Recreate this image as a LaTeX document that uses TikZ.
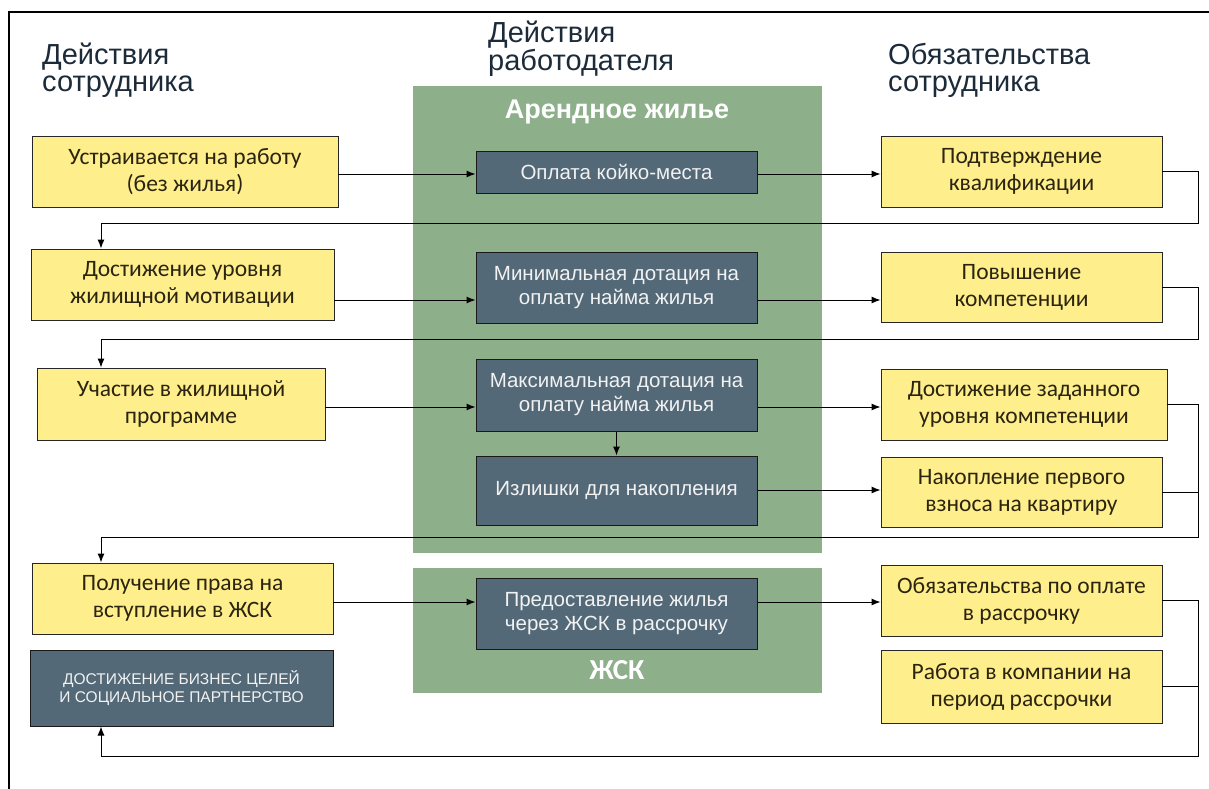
\documentclass[tikz,border=0pt]{standalone}
\usepackage{fontspec}
\setmainfont{Liberation Sans}
\newfontfamily\calfont{Carlito}
\usetikzlibrary{arrows.meta}
\definecolor{ink}{HTML}{1C2B3A}
\definecolor{boxtext}{HTML}{2A2410}
\definecolor{sage}{HTML}{8DAF8A}
\definecolor{slate}{HTML}{536978}
\definecolor{butter}{HTML}{FFEF8C}

\begin{document}
\begin{tikzpicture}[x=1pt,y=-1pt,
  yel/.style={draw=black!85,line width=.9pt,fill=butter,text=boxtext,align=center,inner sep=0pt,font=\calfont\fontsize{23.5}{27}\selectfont},
  drk/.style={draw=black!90,line width=1pt,fill=slate,text=white!95!black,align=center,inner sep=0pt,font=\fontsize{20.5}{24}\selectfont},
  head/.style={anchor=north west,align=left,inner sep=0pt,text=ink,font=\fontsize{29}{27}\selectfont},
  title/.style={text=white,inner sep=0pt,font=\bfseries\fontsize{27}{27}\selectfont},
  arr/.style={-{Latex[length=9pt,width=7pt]},line width=1pt},
  link/.style={line width=1pt}]
\useasboundingbox (0,0) rectangle (1209,789);
\draw[line width=1.2pt] (9,789) -- (9,12) -- (1209,12);
\fill[sage] (413,86) rectangle (822,553);
\fill[sage] (413,568) rectangle (822,693);
\node[title] (rent) at (617,112) {Арендное жилье};
\node[title,font=\calfont\bfseries\fontsize{29}{29}\selectfont] (zhsk) at (617,670) {ЖСК};
\node[head] (hemp) at (42,43) {Действия\\сотрудника};
\node[head] (hboss) at (488,21) {Действия\\работодателя};
\node[head] (hduty) at (888,43) {Обязательства\\сотрудника};
\node[yel,minimum width=306pt,minimum height=71pt] (L1) at (185,171.5) {Устраивается на работу\\(без жилья)};
\node[yel,minimum width=303pt,minimum height=71pt] (L2) at (182.5,284.5) {Достижение уровня\\жилищной мотивации};
\node[yel,minimum width=288pt,minimum height=72pt] (L3) at (181,404) {Участие в жилищной\\программе};
\node[yel,minimum width=301pt,minimum height=71pt] (L4) at (182.5,598.5) {Получение права на\\вступление в ЖСК};
\node[drk,minimum width=303pt,minimum height=76pt,font=\fontsize{15.5}{18}\selectfont] (L5) at (181.5,688) {ДОСТИЖЕНИЕ БИЗНЕС ЦЕЛЕЙ\\И СОЦИАЛЬНОЕ ПАРТНЕРСТВО};
\node[drk,minimum width=281pt,minimum height=42pt] (D1) at (616.5,172) {Оплата койко-места};
\node[drk,minimum width=281pt,minimum height=71pt] (D2) at (616.5,287.5) {Минимальная дотация на\\оплату найма жилья};
\node[drk,minimum width=281pt,minimum height=72pt] (D3) at (616.5,395) {Максимальная дотация на\\оплату найма жилья};
\node[drk,minimum width=281pt,minimum height=69pt] (D4) at (616.5,490.5) {Излишки для накопления};
\node[drk,minimum width=281pt,minimum height=71pt] (D5) at (616.5,613.5) {Предоставление жилья\\через ЖСК в рассрочку};
\node[yel,minimum width=281pt,minimum height=71pt] (R1) at (1021.5,171.5) {Подтверждение\\квалификации};
\node[yel,minimum width=281pt,minimum height=70pt] (R2) at (1021.5,287) {Повышение\\компетенции};
\node[yel,minimum width=286pt,minimum height=71pt] (R3) at (1024,404.5) {Достижение заданного\\уровня компетенции};
\node[yel,minimum width=281pt,minimum height=70pt] (R4) at (1021.5,492) {Накопление первого\\взноса на квартиру};
\node[yel,minimum width=281pt,minimum height=71pt] (R5) at (1021.5,600.5) {Обязательства по оплате\\в рассрочку};
\node[yel,minimum width=281pt,minimum height=73pt] (R6) at (1021.5,686.5) {Работа в компании на\\период рассрочки};
\coordinate (row1) at (0,174);
\coordinate (row2) at (0,300);
\coordinate (row3) at (0,407);
\coordinate (row4) at (0,490);
\coordinate (row5) at (0,602);
\draw[arr] (L1.east |- row1) -- (D1.west |- row1);
\draw[arr] (D1.east |- row1) -- (R1.west |- row1);
\draw[arr] (L2.east |- row2) -- (D2.west |- row2);
\draw[arr] (D2.east |- row2) -- (R2.west |- row2);
\draw[arr] (L3.east |- row3) -- (D3.west |- row3);
\draw[arr] (D3.east |- row3) -- (R3.west |- row3);
\draw[arr] (D4.east |- row4) -- (R4.west |- row4);
\draw[arr] (L4.east |- row5) -- (D5.west |- row5);
\draw[arr] (D5.east |- row5) -- (R5.west |- row5);
\draw[arr] (D3.south) -- (D4.north);
\coordinate (r1) at (1198,223);
\coordinate (l1) at (101,223);
\coordinate (r2) at (1198,339);
\coordinate (l2) at (101,339);
\coordinate (r3) at (1198,537);
\coordinate (l3) at (101,537);
\coordinate (r4) at (1198,756);
\coordinate (l4) at (101,756);
\draw[arr] (R1.east) -| (r1) -- (l1) -- (l1 |- L2.north);
\draw[arr] (R2.east) -| (r2) -- (l2) -- (l2 |- L3.north);
\draw[link] (R3.east) -| (r3);
\draw[arr] (R4.east) -| (r3) -- (l3) -- (l3 |- L4.north);
\draw[link] (R5.east) -| (r4);
\draw[arr] (R6.east) -| (r4) -- (l4) -- (l4 |- L5.south);
\end{tikzpicture}
\end{document}
